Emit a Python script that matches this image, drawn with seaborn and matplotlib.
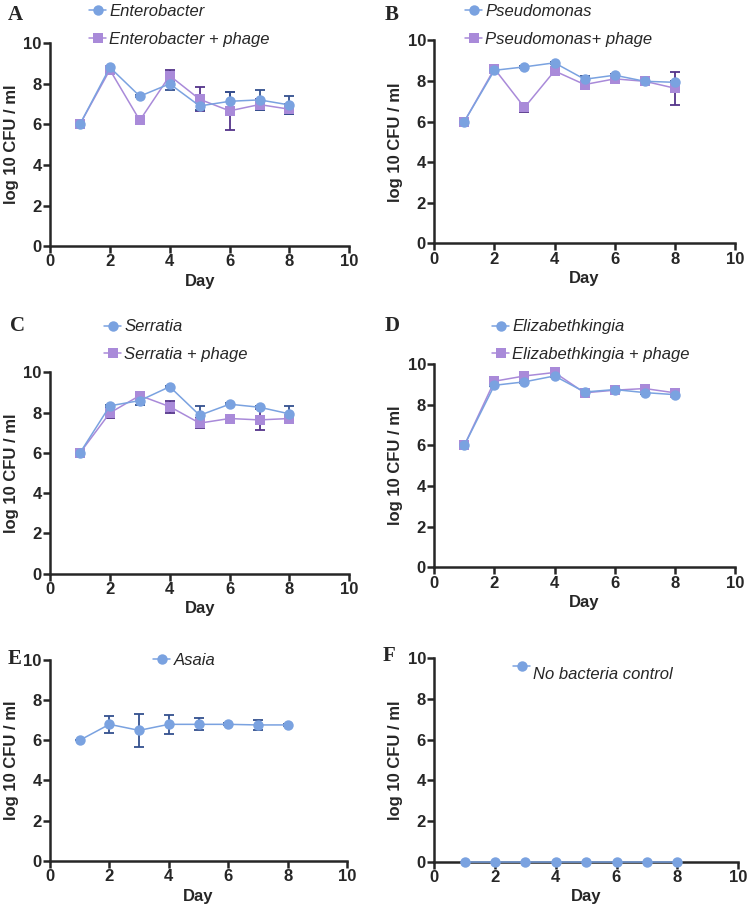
import numpy as np
import pandas as pd
import matplotlib
matplotlib.use("Agg")
import matplotlib.pyplot as plt
import seaborn as sns

# Set seaborn style
sns.set_style("ticks")
plt.rcParams["font.family"] = ["Liberation Sans", "DejaVu Sans"]

days = [1, 2, 3, 4, 5, 6, 7, 8]

# ---- data (mean, sd) ----
entero = [6.0, 8.8, 7.38, 7.99, 6.9, 7.13, 7.2, 6.95]
entero_sd = [0, 0.05, 0.05, 0.3, 0.2, 0.48, 0.5, 0.45]
entero_ph = [6.0, 8.68, 6.19, 8.39, 7.23, 6.66, 6.97, 6.74]
entero_ph_sd = [0, 0.05, 0.05, 0.27, 0.58, 0.92, 0.28, 0.24]

pseudo = [6.0, 8.52, 8.69, 8.89, 8.08, 8.28, 7.98, 7.93]
pseudo_sd = [0, 0.05, 0.05, 0.05, 0.17, 0.05, 0.05, 0.05]
pseudo_ph = [6.0, 8.6, 6.69, 8.49, 7.82, 8.1, 7.98, 7.64]
pseudo_ph_sd = [0, 0.05, 0.24, 0.05, 0.05, 0.05, 0.05, 0.82]

serratia = [6.0, 8.34, 8.6, 9.29, 7.87, 8.42, 8.27, 7.94]
serratia_sd = [0, 0.05, 0.2, 0.05, 0.45, 0.05, 0.05, 0.4]
serratia_ph = [6.0, 7.99, 8.85, 8.3, 7.48, 7.71, 7.64, 7.71]
serratia_ph_sd = [0, 0.25, 0.05, 0.3, 0.24, 0.05, 0.52, 0.15]

eliza = [6.0, 8.96, 9.13, 9.42, 8.63, 8.75, 8.6, 8.5]
eliza_sd = [0, 0.05, 0.05, 0.05, 0.05, 0.05, 0.05, 0.05]
eliza_ph = [6.0, 9.16, 9.42, 9.59, 8.59, 8.72, 8.8, 8.59]
eliza_ph_sd = [0, 0.05, 0.05, 0.05, 0.05, 0.05, 0.05, 0.05]

asaia = [6.0, 6.79, 6.49, 6.79, 6.79, 6.79, 6.76, 6.76]
asaia_sd = [0, 0.42, 0.82, 0.47, 0.3, 0.05, 0.26, 0.05]

control = [0, 0, 0, 0, 0, 0, 0, 0]
control_sd = [0, 0, 0, 0, 0, 0, 0, 0]

BLUE = "#7aa2e0"
BLUE_ERR = "#34508f"
PURPLE = "#a98ad9"
PURPLE_ERR = "#54348a"

fig = plt.figure(figsize=(7.5, 9.15), dpi=100)

panels = [
    # letter, axes rect, letter pos, legend anchor, series
    ("A", [0.0667, 0.731, 0.399, 0.222], (8, 15), (81, -4),
     [("Enterobacter + phage", entero_ph, entero_ph_sd, "s", PURPLE, PURPLE_ERR),
      ("Enterobacter", entero, entero_sd, "o", BLUE, BLUE_ERR)]),
    ("B", [0.579, 0.734, 0.401, 0.222], (385, 15), (457, -4),
     [("Pseudomonas+ phage", pseudo_ph, pseudo_ph_sd, "s", PURPLE, PURPLE_ERR),
      ("Pseudomonas", pseudo, pseudo_sd, "o", BLUE, BLUE_ERR)]),
    ("C", [0.0667, 0.373, 0.399, 0.220], (10, 326), (96, 311),
     [("Serratia + phage", serratia_ph, serratia_ph_sd, "s", PURPLE, PURPLE_ERR),
      ("Serratia", serratia, serratia_sd, "o", BLUE, BLUE_ERR)]),
    ("D", [0.579, 0.380, 0.401, 0.222], (385, 326), (484, 311),
     [("Elizabethkingia + phage", eliza_ph, eliza_ph_sd, "s", PURPLE, PURPLE_ERR),
      ("Elizabethkingia", eliza, eliza_sd, "o", BLUE, BLUE_ERR)]),
    ("E", [0.0667, 0.059, 0.396, 0.220], (8, 659), (145, 645),
     [("Asaia", asaia, asaia_sd, "o", BLUE, BLUE_ERR)]),
    ("F", [0.579, 0.058, 0.405, 0.223], (383, 656), (505, 641),
     [("\nNo bacteria control", control, control_sd, "o", BLUE, BLUE_ERR)]),
]

W, H = 750, 915

for letter, rect, lpos, legpos, series in panels:
    ax = fig.add_axes(rect)
    for label, vals, sd, mk, col, ecol in series:
        ax.errorbar(days, vals, yerr=sd, fmt="none", ecolor=ecol,
                    elinewidth=1.3, capsize=3.5, capthick=1.3, zorder=3)
        df = pd.DataFrame({"Day": days, "val": vals})
        sns.lineplot(data=df, x="Day", y="val", ax=ax, color=col, marker=mk,
                     markersize=7.5 if mk == "o" else 7, markeredgewidth=0,
                     linewidth=1.1, label=label, zorder=3.5, clip_on=False)

    ax.set_xlim(0, 10)
    ax.set_ylim(0, 10)
    ax.set_xticks([0, 2, 4, 6, 8, 10])
    ax.set_yticks([0, 2, 4, 6, 8, 10])
    ax.set_xlabel("Day", fontsize=12, fontweight="bold", labelpad=3)
    ax.set_ylabel("log 10 CFU / ml", fontsize=12, fontweight="bold", labelpad=3)
    for t in ax.get_xticklabels() + ax.get_yticklabels():
        t.set_fontweight("bold")
        t.set_fontsize(12)
    ax.tick_params(axis="both", length=5, width=1.8, pad=1, direction="out")
    for s in ["left", "bottom"]:
        ax.spines[s].set_linewidth(1.8)
    sns.despine(ax=ax)

    # legend outside, above the plot, blue series first
    handles, labels = ax.get_legend_handles_labels()
    ax.legend(handles[::-1], labels[::-1], loc="upper left",
              bbox_to_anchor=(legpos[0] / W, 1 - legpos[1] / H),
              bbox_transform=fig.transFigure, frameon=False, borderpad=0,
              handlelength=1.0, handletextpad=0.2, labelspacing=0.75,
              prop={"style": "italic", "size": 12})

    fig.text(lpos[0] / W, 1 - lpos[1] / H, letter, ha="left", va="center",
             fontsize=15, fontweight="bold", family="Liberation Serif")

fig.savefig("out.png", dpi=100)
